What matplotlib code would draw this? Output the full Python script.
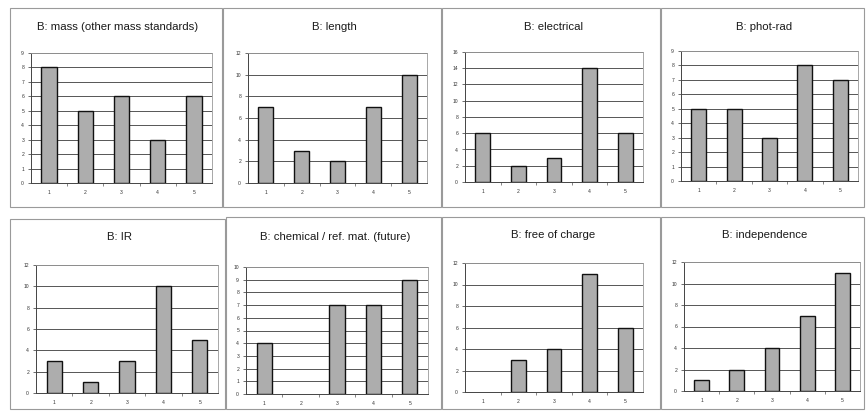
import matplotlib.pyplot as plt
from matplotlib.patches import Rectangle

categories = [1, 2, 3, 4, 5]

titles = ["B: mass (other mass standards)", "B: length", "B: electrical", "B: phot-rad",
          "B: IR", "B: chemical / ref. mat. (future)", "B: free of charge", "B: independence"]

mass = [8, 5, 6, 3, 6]
length = [7, 3, 2, 7, 10]
electrical = [6, 2, 3, 14, 6]
phot_rad = [5, 5, 3, 8, 7]
ir = [3, 1, 3, 10, 5]
chemical = [4, 0, 7, 7, 9]
free_of_charge = [0, 3, 4, 11, 6]
independence = [1, 2, 4, 7, 11]

ymax = [9, 12, 16, 9, 12, 10, 12, 12]
ystep = [1, 2, 2, 1, 2, 1, 2, 2]

series = [mass, length, electrical, phot_rad, ir, chemical, free_of_charge, independence]

W, H = 866, 419
plt.rcParams['font.family'] = ['Liberation Sans', 'DejaVu Sans']
fig = plt.figure(figsize=(W / 100, H / 100), dpi=100)

# pixel boxes: panel border (x0, y0, x1, y1) and plot area (x0, y0, x1, y1), title y
panels = [(10, 8, 222, 207), (223, 8, 441, 207), (442, 8, 660, 207), (661, 8, 864, 207),
          (10, 219, 225, 409), (226, 217, 441, 409), (442, 217, 660, 409), (661, 217, 864, 409)]
plots = [(31, 53, 212, 183), (248, 53, 427, 183), (465, 52, 643, 182), (681, 51, 858, 181),
         (36, 265, 218, 393), (246, 267, 428, 394), (465, 263, 643, 392), (684, 262, 860, 391)]
title_y = [27, 27, 27, 27, 237, 237, 235, 235]


def fx(px):
    return px / W


def fy(py):
    return 1 - py / H


for i in range(8):
    bx0, by0, bx1, by1 = panels[i]
    fig.patches.append(Rectangle((fx(bx0), fy(by1)), fx(bx1 - bx0), (by1 - by0) / H,
                                 transform=fig.transFigure, fill=False,
                                 edgecolor='#9a9a9a', linewidth=0.8))
    px0, py0, px1, py1 = plots[i]
    fig.text(fx((bx0 + bx1) / 2 + 2), fy(title_y[i]), titles[i], ha='center', va='center',
             fontsize=8.2, color='#1a1a1a')

    ax = fig.add_axes([fx(px0), fy(py1), fx(px1 - px0), (py1 - py0) / H])
    vals = series[i]
    edges = ['#111111' if v > 0 else 'none' for v in vals]
    ax.bar(categories, vals, width=0.42, color='#adadad', edgecolor=edges, linewidth=1.0,
           zorder=3)
    ax.set_xlim(0.5, 5.5)
    ax.set_ylim(0, ymax[i])
    ax.set_yticks(range(0, ymax[i] + 1, ystep[i]))
    ax.set_xticks(categories)
    ax.set_xticks([1.5, 2.5, 3.5, 4.5], minor=True)
    ax.grid(axis='y', color='#555555', linewidth=0.7, zorder=0)
    ax.tick_params(axis='both', labelsize=3.6, length=2, width=0.5, pad=3, colors='#333333')
    ax.tick_params(axis='x', which='major', length=0, pad=5)
    ax.tick_params(axis='x', which='minor', length=2, width=0.5, colors='#555555')
    for s in ['top', 'right']:
        ax.spines[s].set_color('#999999')
        ax.spines[s].set_linewidth(0.6)
    for s in ['left', 'bottom']:
        ax.spines[s].set_color('#444444')
        ax.spines[s].set_linewidth(0.7)

fig.savefig('out.png', dpi=100)
